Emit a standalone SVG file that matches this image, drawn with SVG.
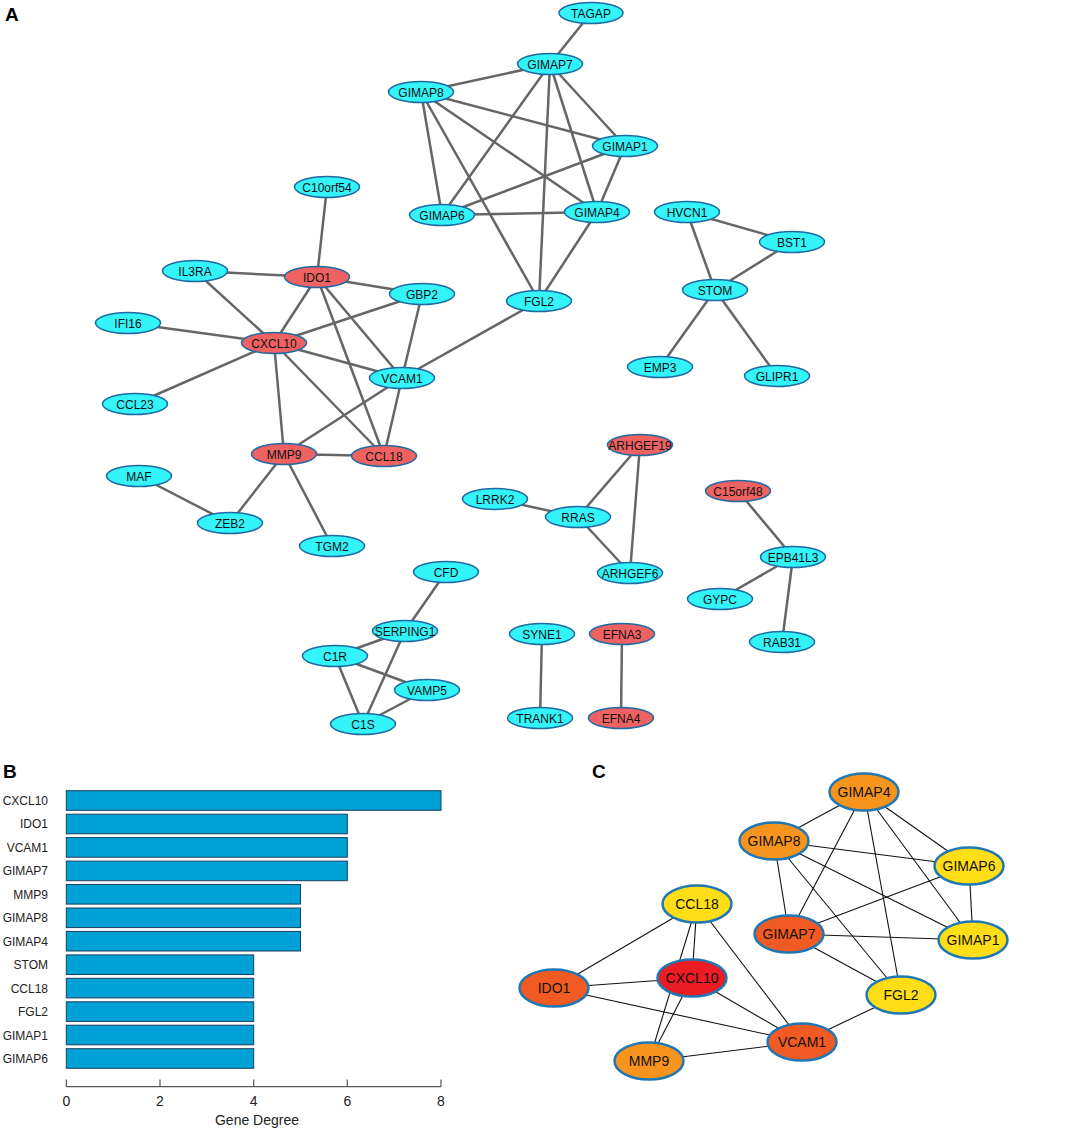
<svg xmlns="http://www.w3.org/2000/svg" width="1072" height="1129" viewBox="0 0 1072 1129">
<style>
text{font-family:"Liberation Sans",Arial,sans-serif;}
.panel{font-size:19px;font-weight:bold;fill:#000;}
.ea line{stroke:#666;stroke-width:2.5;}
.na ellipse{stroke:#1f6aa5;stroke-width:1.5;}
.cy{fill:#33f4f8;}
.rd{fill:#ef6262;}
.na text{font-size:12px;fill:#111;text-anchor:middle;}
.ec line{stroke:#111;stroke-width:1.1;}
.nc ellipse{stroke:#1f78b4;stroke-width:2.5;}
.nc text{font-size:14px;fill:#111;text-anchor:middle;}
.or{fill:#f7941d;}
.ro{fill:#f15a22;}
.re{fill:#ec1c24;}
.ye{fill:#ffde17;}
.bar{fill:#00a1d7;stroke:#1d3f5a;stroke-width:1;}
.bl{font-size:12px;fill:#222;text-anchor:end;}
.tl{font-size:14px;fill:#222;text-anchor:middle;}
</style>
<rect width="1072" height="1129" fill="#fff"/>
<text class="panel" x="5" y="21">A</text>
<text class="panel" x="3" y="778">B</text>
<text class="panel" x="592" y="778">C</text>

<!-- Panel A connectors -->
<g id="connectors-A" class="ea">
<line x1="591" y1="13" x2="550" y2="64"/>
<line x1="550" y1="64" x2="421" y2="92"/>
<line x1="550" y1="64" x2="625" y2="146"/>
<line x1="550" y1="64" x2="442" y2="215"/>
<line x1="550" y1="64" x2="597" y2="212"/>
<line x1="550" y1="64" x2="539" y2="301"/>
<line x1="421" y1="92" x2="625" y2="146"/>
<line x1="421" y1="92" x2="442" y2="215"/>
<line x1="421" y1="92" x2="597" y2="212"/>
<line x1="421" y1="92" x2="539" y2="301"/>
<line x1="625" y1="146" x2="442" y2="215"/>
<line x1="625" y1="146" x2="597" y2="212"/>
<line x1="442" y1="215" x2="597" y2="212"/>
<line x1="597" y1="212" x2="539" y2="301"/>
<line x1="539" y1="301" x2="402" y2="378"/>
<line x1="327" y1="187" x2="317" y2="277"/>
<line x1="195" y1="271" x2="317" y2="277"/>
<line x1="195" y1="271" x2="274" y2="343"/>
<line x1="317" y1="277" x2="422" y2="294"/>
<line x1="317" y1="277" x2="274" y2="343"/>
<line x1="317" y1="277" x2="402" y2="378"/>
<line x1="317" y1="277" x2="384" y2="456"/>
<line x1="128" y1="323" x2="274" y2="343"/>
<line x1="274" y1="343" x2="422" y2="294"/>
<line x1="274" y1="343" x2="402" y2="378"/>
<line x1="274" y1="343" x2="135" y2="404"/>
<line x1="274" y1="343" x2="284" y2="454"/>
<line x1="274" y1="343" x2="384" y2="456"/>
<line x1="422" y1="294" x2="402" y2="378"/>
<line x1="402" y1="378" x2="284" y2="454"/>
<line x1="402" y1="378" x2="384" y2="456"/>
<line x1="284" y1="454" x2="384" y2="456"/>
<line x1="284" y1="454" x2="230" y2="523"/>
<line x1="284" y1="454" x2="332" y2="546"/>
<line x1="139" y1="476" x2="230" y2="523"/>
<line x1="446" y1="572" x2="405" y2="631"/>
<line x1="405" y1="631" x2="335" y2="656"/>
<line x1="405" y1="631" x2="363" y2="724"/>
<line x1="335" y1="656" x2="427" y2="690"/>
<line x1="335" y1="656" x2="363" y2="724"/>
<line x1="427" y1="690" x2="363" y2="724"/>
<line x1="687" y1="212" x2="792" y2="242"/>
<line x1="687" y1="212" x2="715" y2="290"/>
<line x1="792" y1="242" x2="715" y2="290"/>
<line x1="715" y1="290" x2="660" y2="367"/>
<line x1="715" y1="290" x2="777" y2="376"/>
<line x1="640" y1="445" x2="578" y2="517"/>
<line x1="640" y1="445" x2="630" y2="573"/>
<line x1="495" y1="499" x2="578" y2="517"/>
<line x1="578" y1="517" x2="630" y2="573"/>
<line x1="738" y1="491" x2="793" y2="557"/>
<line x1="793" y1="557" x2="720" y2="599"/>
<line x1="793" y1="557" x2="782" y2="642"/>
<line x1="542" y1="634" x2="540" y2="718"/>
<line x1="622" y1="634" x2="621" y2="718"/>
</g>

<!-- Panel A nodes -->
<g class="na">
<g id="a-TAGAP"><ellipse class="cy" cx="591" cy="13" rx="32" ry="10.5"/><text x="591" y="17.5">TAGAP</text></g>
<g id="a-GIMAP7"><ellipse class="cy" cx="550" cy="64" rx="32.5" ry="10.5"/><text x="550" y="68.5">GIMAP7</text></g>
<g id="a-GIMAP8"><ellipse class="cy" cx="421" cy="92" rx="32.5" ry="10.5"/><text x="421" y="96.5">GIMAP8</text></g>
<g id="a-GIMAP1"><ellipse class="cy" cx="625" cy="146" rx="32.5" ry="10.5"/><text x="625" y="150.5">GIMAP1</text></g>
<g id="a-GIMAP6"><ellipse class="cy" cx="442" cy="215" rx="32.5" ry="10.5"/><text x="442" y="219.5">GIMAP6</text></g>
<g id="a-GIMAP4"><ellipse class="cy" cx="597" cy="212" rx="32.5" ry="10.5"/><text x="597" y="216.5">GIMAP4</text></g>
<g id="a-FGL2"><ellipse class="cy" cx="539" cy="301" rx="32.5" ry="10.5"/><text x="539" y="305.5">FGL2</text></g>
<g id="a-GBP2"><ellipse class="cy" cx="422" cy="294" rx="32.5" ry="10.5"/><text x="422" y="298.5">GBP2</text></g>
<g id="a-C10orf54"><ellipse class="cy" cx="327" cy="187" rx="32.5" ry="10.5"/><text x="327" y="191.5">C10orf54</text></g>
<g id="a-IDO1"><ellipse class="rd" cx="317" cy="277" rx="32.5" ry="10.5"/><text x="317" y="281.5">IDO1</text></g>
<g id="a-IL3RA"><ellipse class="cy" cx="195" cy="271" rx="32.5" ry="10.5"/><text x="195" y="275.5">IL3RA</text></g>
<g id="a-IFI16"><ellipse class="cy" cx="128" cy="323" rx="32.5" ry="10.5"/><text x="128" y="327.5">IFI16</text></g>
<g id="a-CXCL10"><ellipse class="rd" cx="274" cy="343" rx="32.5" ry="10.5"/><text x="274" y="347.5">CXCL10</text></g>
<g id="a-VCAM1"><ellipse class="cy" cx="402" cy="378" rx="32.5" ry="10.5"/><text x="402" y="382.5">VCAM1</text></g>
<g id="a-CCL23"><ellipse class="cy" cx="135" cy="404" rx="32.5" ry="10.5"/><text x="135" y="408.5">CCL23</text></g>
<g id="a-MMP9"><ellipse class="rd" cx="284" cy="454" rx="32.5" ry="10.5"/><text x="284" y="458.5">MMP9</text></g>
<g id="a-CCL18"><ellipse class="rd" cx="384" cy="456" rx="32.5" ry="10.5"/><text x="384" y="460.5">CCL18</text></g>
<g id="a-MAF"><ellipse class="cy" cx="139" cy="476" rx="32.5" ry="10.5"/><text x="139" y="480.5">MAF</text></g>
<g id="a-ZEB2"><ellipse class="cy" cx="230" cy="523" rx="32.5" ry="10.5"/><text x="230" y="527.5">ZEB2</text></g>
<g id="a-TGM2"><ellipse class="cy" cx="332" cy="546" rx="32.5" ry="10.5"/><text x="332" y="550.5">TGM2</text></g>
<g id="a-CFD"><ellipse class="cy" cx="446" cy="572" rx="32.5" ry="10.5"/><text x="446" y="576.5">CFD</text></g>
<g id="a-SERPING1"><ellipse class="cy" cx="405" cy="631" rx="32.5" ry="10.5"/><text x="405" y="635.5">SERPING1</text></g>
<g id="a-C1R"><ellipse class="cy" cx="335" cy="656" rx="32.5" ry="10.5"/><text x="335" y="660.5">C1R</text></g>
<g id="a-VAMP5"><ellipse class="cy" cx="427" cy="690" rx="32.5" ry="10.5"/><text x="427" y="694.5">VAMP5</text></g>
<g id="a-C1S"><ellipse class="cy" cx="363" cy="724" rx="32.5" ry="10.5"/><text x="363" y="728.5">C1S</text></g>
<g id="a-HVCN1"><ellipse class="cy" cx="687" cy="212" rx="32.5" ry="10.5"/><text x="687" y="216.5">HVCN1</text></g>
<g id="a-BST1"><ellipse class="cy" cx="792" cy="242" rx="32.5" ry="10.5"/><text x="792" y="246.5">BST1</text></g>
<g id="a-STOM"><ellipse class="cy" cx="715" cy="290" rx="32.5" ry="10.5"/><text x="715" y="294.5">STOM</text></g>
<g id="a-EMP3"><ellipse class="cy" cx="660" cy="367" rx="32.5" ry="10.5"/><text x="660" y="371.5">EMP3</text></g>
<g id="a-GLIPR1"><ellipse class="cy" cx="777" cy="376" rx="32.5" ry="10.5"/><text x="777" y="380.5">GLIPR1</text></g>
<g id="a-ARHGEF19"><ellipse class="rd" cx="640" cy="445" rx="32.5" ry="10.5"/><text x="640" y="449.5">ARHGEF19</text></g>
<g id="a-C15orf48"><ellipse class="rd" cx="738" cy="491" rx="32.5" ry="10.5"/><text x="738" y="495.5">C15orf48</text></g>
<g id="a-LRRK2"><ellipse class="cy" cx="495" cy="499" rx="32.5" ry="10.5"/><text x="495" y="503.5">LRRK2</text></g>
<g id="a-RRAS"><ellipse class="cy" cx="578" cy="517" rx="32.5" ry="10.5"/><text x="578" y="521.5">RRAS</text></g>
<g id="a-ARHGEF6"><ellipse class="cy" cx="630" cy="573" rx="32.5" ry="10.5"/><text x="630" y="577.5">ARHGEF6</text></g>
<g id="a-EPB41L3"><ellipse class="cy" cx="793" cy="557" rx="32.5" ry="10.5"/><text x="793" y="561.5">EPB41L3</text></g>
<g id="a-GYPC"><ellipse class="cy" cx="720" cy="599" rx="32.5" ry="10.5"/><text x="720" y="603.5">GYPC</text></g>
<g id="a-RAB31"><ellipse class="cy" cx="782" cy="642" rx="32.5" ry="10.5"/><text x="782" y="646.5">RAB31</text></g>
<g id="a-SYNE1"><ellipse class="cy" cx="542" cy="634" rx="32.5" ry="10.5"/><text x="542" y="638.5">SYNE1</text></g>
<g id="a-EFNA3"><ellipse class="rd" cx="622" cy="634" rx="32.5" ry="10.5"/><text x="622" y="638.5">EFNA3</text></g>
<g id="a-TRANK1"><ellipse class="cy" cx="540" cy="718" rx="32.5" ry="10.5"/><text x="540" y="722.5">TRANK1</text></g>
<g id="a-EFNA4"><ellipse class="rd" cx="621" cy="718" rx="32.5" ry="10.5"/><text x="621" y="722.5">EFNA4</text></g>
</g>

<!-- Panel B bar chart -->
<g id="chart-B">
<rect class="bar" x="66.3" y="790.7" width="374.7" height="19.6"/>
<rect class="bar" x="66.3" y="814.2" width="281" height="19.6"/>
<rect class="bar" x="66.3" y="837.6" width="281" height="19.6"/>
<rect class="bar" x="66.3" y="861.1" width="281" height="19.6"/>
<rect class="bar" x="66.3" y="884.5" width="234.2" height="19.6"/>
<rect class="bar" x="66.3" y="908.0" width="234.2" height="19.6"/>
<rect class="bar" x="66.3" y="931.4" width="234.2" height="19.6"/>
<rect class="bar" x="66.3" y="954.9" width="187.4" height="19.6"/>
<rect class="bar" x="66.3" y="978.3" width="187.4" height="19.6"/>
<rect class="bar" x="66.3" y="1001.8" width="187.4" height="19.6"/>
<rect class="bar" x="66.3" y="1025.2" width="187.4" height="19.6"/>
<rect class="bar" x="66.3" y="1048.7" width="187.4" height="19.6"/>
<text class="bl" x="48" y="805">CXCL10</text>
<text class="bl" x="48" y="828.4">IDO1</text>
<text class="bl" x="48" y="851.9">VCAM1</text>
<text class="bl" x="48" y="875.3">GIMAP7</text>
<text class="bl" x="48" y="898.8">MMP9</text>
<text class="bl" x="48" y="922.2">GIMAP8</text>
<text class="bl" x="48" y="945.7">GIMAP4</text>
<text class="bl" x="48" y="969.1">STOM</text>
<text class="bl" x="48" y="992.6">CCL18</text>
<text class="bl" x="48" y="1016">FGL2</text>
<text class="bl" x="48" y="1039.5">GIMAP1</text>
<text class="bl" x="48" y="1062.9">GIMAP6</text>
<g stroke="#555" stroke-width="1.2" fill="none">
<line x1="66.3" y1="1086.7" x2="441" y2="1086.7"/>
<line x1="66.3" y1="1079.5" x2="66.3" y2="1086.7"/>
<line x1="160" y1="1079.5" x2="160" y2="1086.7"/>
<line x1="253.7" y1="1079.5" x2="253.7" y2="1086.7"/>
<line x1="347.3" y1="1079.5" x2="347.3" y2="1086.7"/>
<line x1="441" y1="1079.5" x2="441" y2="1086.7"/>
</g>
<text class="tl" x="66.3" y="1106">0</text>
<text class="tl" x="160" y="1106">2</text>
<text class="tl" x="253.7" y="1106">4</text>
<text class="tl" x="347.3" y="1106">6</text>
<text class="tl" x="441" y="1106">8</text>
<text class="tl" x="257" y="1125">Gene Degree</text>
</g>

<!-- Panel C connectors -->
<g id="connectors-C" class="ec">
<line x1="864" y1="792" x2="774" y2="841"/>
<line x1="864" y1="792" x2="789" y2="934"/>
<line x1="864" y1="792" x2="901" y2="995"/>
<line x1="864" y1="792" x2="969" y2="866"/>
<line x1="864" y1="792" x2="973" y2="940"/>
<line x1="774" y1="841" x2="969" y2="866"/>
<line x1="774" y1="841" x2="789" y2="934"/>
<line x1="774" y1="841" x2="901" y2="995"/>
<line x1="774" y1="841" x2="973" y2="940"/>
<line x1="969" y1="866" x2="789" y2="934"/>
<line x1="969" y1="866" x2="973" y2="940"/>
<line x1="789" y1="934" x2="973" y2="940"/>
<line x1="789" y1="934" x2="901" y2="995"/>
<line x1="901" y1="995" x2="802" y2="1042"/>
<line x1="697" y1="904" x2="554" y2="988"/>
<line x1="697" y1="904" x2="692" y2="978"/>
<line x1="697" y1="904" x2="649" y2="1061"/>
<line x1="697" y1="904" x2="802" y2="1042"/>
<line x1="554" y1="988" x2="692" y2="978"/>
<line x1="554" y1="988" x2="802" y2="1042"/>
<line x1="692" y1="978" x2="802" y2="1042"/>
<line x1="692" y1="978" x2="649" y2="1061"/>
<line x1="649" y1="1061" x2="802" y2="1042"/>
</g>

<!-- Panel C nodes -->
<g class="nc">
<g id="c-GIMAP4"><ellipse class="or" cx="864" cy="792" rx="34.5" ry="18.5"/><text x="864" y="797">GIMAP4</text></g>
<g id="c-GIMAP8"><ellipse class="or" cx="774" cy="841" rx="34.5" ry="18.5"/><text x="774" y="846">GIMAP8</text></g>
<g id="c-GIMAP6"><ellipse class="ye" cx="969" cy="866" rx="34.5" ry="18.5"/><text x="969" y="871">GIMAP6</text></g>
<g id="c-CCL18"><ellipse class="ye" cx="697" cy="904" rx="34.5" ry="18.5"/><text x="697" y="909">CCL18</text></g>
<g id="c-GIMAP7"><ellipse class="ro" cx="789" cy="934" rx="34.5" ry="18.5"/><text x="789" y="939">GIMAP7</text></g>
<g id="c-GIMAP1"><ellipse class="ye" cx="973" cy="940" rx="34.5" ry="18.5"/><text x="973" y="945">GIMAP1</text></g>
<g id="c-CXCL10"><ellipse class="re" cx="692" cy="978" rx="34.5" ry="18.5"/><text x="692" y="983">CXCL10</text></g>
<g id="c-IDO1"><ellipse class="ro" cx="554" cy="988" rx="34.5" ry="18.5"/><text x="554" y="993">IDO1</text></g>
<g id="c-FGL2"><ellipse class="ye" cx="901" cy="995" rx="34.5" ry="18.5"/><text x="901" y="1000">FGL2</text></g>
<g id="c-VCAM1"><ellipse class="ro" cx="802" cy="1042" rx="34.5" ry="18.5"/><text x="802" y="1047">VCAM1</text></g>
<g id="c-MMP9"><ellipse class="or" cx="649" cy="1061" rx="34.5" ry="18.5"/><text x="649" y="1066">MMP9</text></g>
</g>
</svg>
